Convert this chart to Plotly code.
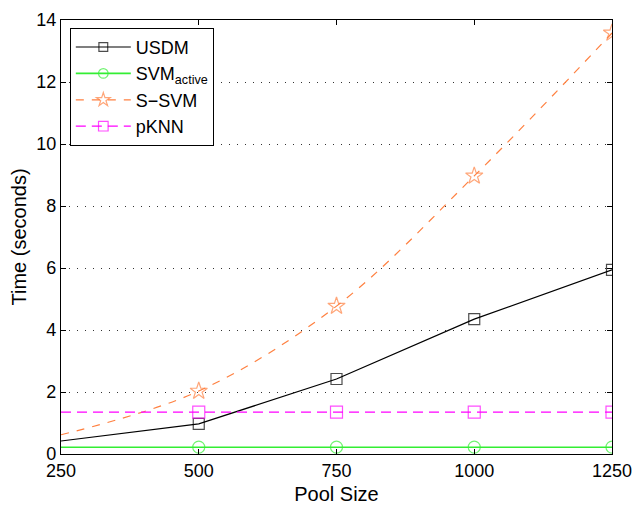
import plotly.graph_objects as go

pool_size = [250, 500, 750, 1000, 1250]
usdm = [0.42, 0.97, 2.42, 4.35, 5.94]
svm_active = [0.22, 0.22, 0.22, 0.22, 0.22]
s_svm = [0.62, 2.03, 4.77, 8.97, 13.58]
pknn = [1.35, 1.35, 1.35, 1.35, 1.35]

fig = go.Figure()
fig.add_trace(go.Scatter(x=pool_size, y=usdm, name="USDM", mode="lines+markers",
                         line=dict(color="black", width=1.2),
                         marker=dict(symbol="square-open", size=[0, 11, 11, 11, 11], color="black", line=dict(width=1.2))))
fig.add_trace(go.Scatter(x=pool_size, y=svm_active, name="SVM<sub>active</sub>", mode="lines+markers",
                         line=dict(color="#33ee33", width=1.6),
                         marker=dict(symbol="circle-open", size=[0, 12, 12, 12, 12], color="#33ee33", line=dict(width=1.2))))
fig.add_trace(go.Scatter(x=pool_size, y=s_svm, name="S\u2212SVM", mode="lines+markers",
                         line=dict(color="#ff8040", width=1.2, dash="8px,8px", shape="spline"),
                         marker=dict(symbol="star-open", size=[0, 13, 13, 13, 13], color="#ff8040", line=dict(width=1.2))))
fig.add_trace(go.Scatter(x=pool_size, y=pknn, name="pKNN", mode="lines+markers",
                         line=dict(color="#ff00ff", width=1.2, dash="10px,6px"),
                         marker=dict(symbol="square-open", size=[0, 12, 12, 12, 12], color="#ff00ff", line=dict(width=1.2))))

axis_common = dict(showline=True, linecolor="black", linewidth=1.2, mirror="ticks",
                   ticks="inside", ticklen=5, tickcolor="black", zeroline=False, automargin=False,
                   tickfont=dict(family="Liberation Sans, Arial", size=18, color="black"),
                   title_font=dict(family="Liberation Sans, Arial", size=20, color="black"))

fig.update_xaxes(range=[250, 1250], tickvals=pool_size, showgrid=False,
                 title_text="Pool Size", title_standoff=12, **axis_common)
fig.update_yaxes(range=[0, 14], tickvals=[0, 2, 4, 6, 8, 10, 12, 14], showgrid=True,
                 gridcolor="#333333", griddash="1px,7px", gridwidth=1,
                 title_text="Time (seconds)", title_standoff=4, **axis_common)

fig.update_layout(
    width=633, height=505,
    margin=dict(l=61, r=21, t=20, b=51),
    plot_bgcolor="white", paper_bgcolor="white",
    font=dict(family="Liberation Sans, Arial", size=18, color="black"),
    legend=dict(x=0.016, y=0.982, xanchor="left", yanchor="top",
                bordercolor="black", borderwidth=1, bgcolor="white",
                font=dict(size=18), tracegroupgap=0, itemwidth=55),
    showlegend=True,
)

fig.write_html("out.html")
